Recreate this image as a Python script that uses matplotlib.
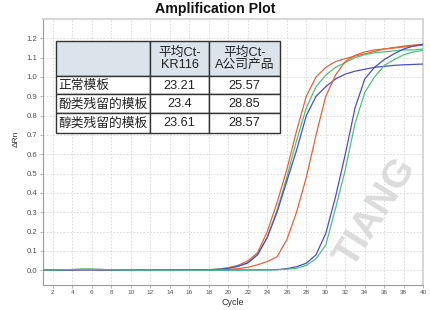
import numpy as np
import matplotlib
matplotlib.use("Agg")
import matplotlib.pyplot as plt
from matplotlib.patches import Rectangle

plt.rcParams['font.family'] = ['Liberation Sans', 'Noto Sans CJK SC', 'DejaVu Sans']

# ---------------- data ----------------
cycles = np.arange(1, 41)

kr116_normal = [0.000, 0.001, 0.002, 0.003, 0.004, 0.004, 0.003, 0.002, 0.001, 0.000,
                0.000, 0.000, 0.001, 0.001, 0.001, 0.002, 0.002, 0.003, 0.006, 0.013,
                0.025, 0.048, 0.090, 0.200, 0.350, 0.520, 0.720, 0.900, 1.000, 1.050,
                1.080, 1.095, 1.108, 1.120, 1.132, 1.145, 1.152, 1.160, 1.165, 1.168]
kr116_phenol = [0.000, 0.001, 0.002, 0.003, 0.005, 0.005, 0.004, 0.002, 0.001, 0.000,
                0.000, 0.000, 0.000, 0.001, 0.001, 0.001, 0.002, 0.002, 0.005, 0.010,
                0.020, 0.038, 0.080, 0.170, 0.310, 0.480, 0.670, 0.840, 0.950, 1.010,
                1.050, 1.075, 1.100, 1.115, 1.125, 1.130, 1.135, 1.140, 1.140, 1.145]
kr116_alcohol = [0.000, 0.000, 0.001, 0.002, 0.003, 0.003, 0.002, 0.001, 0.000, 0.000,
                 0.000, 0.000, 0.000, 0.001, 0.001, 0.001, 0.001, 0.002, 0.004, 0.010,
                 0.020, 0.038, 0.080, 0.170, 0.300, 0.460, 0.620, 0.800, 0.900, 0.950,
                 0.990, 1.015, 1.030, 1.040, 1.050, 1.055, 1.060, 1.063, 1.065, 1.067]
compA_normal = [0.000, 0.001, 0.002, 0.003, 0.003, 0.003, 0.002, 0.001, 0.000, 0.000,
                0.000, 0.000, 0.000, 0.000, 0.001, 0.001, 0.001, 0.001, 0.002, 0.004,
                0.008, 0.015, 0.028, 0.045, 0.070, 0.157, 0.300, 0.480, 0.700, 0.900,
                1.010, 1.080, 1.112, 1.130, 1.140, 1.145, 1.150, 1.155, 1.160, 1.165]
compA_phenol = [0.000, 0.000, 0.001, 0.001, 0.002, 0.002, 0.001, 0.001, 0.000, 0.000,
                0.000, 0.000, 0.000, 0.000, 0.000, 0.000, 0.000, 0.000, 0.000, 0.001,
                0.001, 0.001, 0.002, 0.002, 0.003, 0.008, 0.018, 0.036, 0.080, 0.190,
                0.380, 0.600, 0.840, 0.990, 1.050, 1.090, 1.120, 1.145, 1.160, 1.170]
compA_alcohol = [0.000, 0.001, 0.002, 0.004, 0.005, 0.005, 0.004, 0.002, 0.001, 0.000,
                 0.000, 0.000, 0.000, 0.000, 0.000, 0.000, 0.000, 0.000, 0.000, 0.000,
                 0.001, 0.001, 0.001, 0.002, 0.002, 0.005, 0.010, 0.025, 0.060, 0.130,
                 0.320, 0.520, 0.760, 0.920, 1.000, 1.060, 1.090, 1.115, 1.130, 1.138]

x_ticks = list(range(2, 41, 2))
y_ticks = [0.0, 0.1, 0.2, 0.3, 0.4, 0.5, 0.6, 0.7, 0.8, 0.9, 1.0, 1.1, 1.2]

table_header = ["", "平均Ct-\nKR116", "平均Ct-\nA公司产品"]
table_rows = ["正常模板", "酚类残留的模板", "醇类残留的模板"]
ct_kr116 = ["23.21", "23.4", "23.61"]
ct_compA = ["25.57", "28.85", "28.57"]

# ---------------- figure ----------------
W, H = 430, 310
fig = plt.figure(figsize=(W / 100, H / 100), dpi=100)
fig.patch.set_facecolor('white')

def fx(px):
    return px / W

def fy(py):
    return 1 - py / H

ax = fig.add_axes([fx(43), fy(284.7), fx(423.3) - fx(43), fy(19) - fy(284.7)])

RED = '#e4633d'
GREEN = '#4fbf80'
BLUE = '#4a4fc4'

series = [
    (kr116_normal, RED),
    (kr116_phenol, GREEN),
    (kr116_alcohol, BLUE),
    (compA_normal, RED),
    (compA_phenol, BLUE),
    (compA_alcohol, GREEN),
]
for vals, col in series:
    ax.plot(cycles, vals, color=col, lw=0.9, zorder=3)

ax.set_xlim(1, 40)
ax.set_ylim(-0.075, 1.30)
ax.set_xticks(x_ticks)
ax.set_xticklabels([str(t) for t in x_ticks], fontsize=4.6, color='#505050')
ax.set_yticks(y_ticks)
ax.set_yticklabels([f"{t:.1f}" for t in y_ticks], fontsize=5.6, color='#505050')
ax.tick_params(axis='both', length=2, width=0.5, color='#999999', pad=2)
ax.grid(True, color='#d6d6d6', lw=0.6, ls=(0, (2, 2)), zorder=0)
ax.set_axisbelow(True)
for s in ['left', 'bottom']:
    ax.spines[s].set_color('#9a9a9a')
    ax.spines[s].set_linewidth(0.8)
for s in ['top', 'right']:
    ax.spines[s].set_color('#d0d0d0')
    ax.spines[s].set_linewidth(1.2)

ax.set_xlabel("Cycle", fontsize=6.5, color='#303030', labelpad=2)
ax.set_ylabel("ΔRn", fontsize=6, color='#303030')
ax.yaxis.set_label_coords(-0.062, 0.55)

fig.text(0.5, fy(8.5), "Amplification Plot", ha='center', va='center',
         fontsize=10.2, fontweight='bold', color='#111111')

# watermark (visible part of the logo text)
fig.text(fx(376), fy(212), "TIANG", rotation=58, rotation_mode='anchor',
         ha='center', va='center', fontsize=28, fontweight='heavy',
         color='#d8d8d8', alpha=0.9, zorder=1)

# ---------------- table ----------------
col_edges = [56, 150, 209, 280]
row_edges = [40.7, 75.7, 94.3, 113.3, 132.7]
edge_col = '#333333'

for r in range(len(row_edges) - 1):
    for c in range(len(col_edges) - 1):
        x0, x1 = col_edges[c], col_edges[c + 1]
        y0, y1 = row_edges[r], row_edges[r + 1]
        face = '#dce3eb' if r == 0 else 'white'
        rect = Rectangle((fx(x0), fy(y1)), fx(x1) - fx(x0), fy(y0) - fy(y1),
                         transform=fig.transFigure, facecolor=face,
                         edgecolor=edge_col, lw=1.0, zorder=5)
        fig.add_artist(rect)

def cell_center(c, r):
    return ((col_edges[c] + col_edges[c + 1]) / 2, (row_edges[r] + row_edges[r + 1]) / 2)

tfs = 9.2
for c, txt in enumerate(table_header):
    if txt:
        cx, cy = cell_center(c, 0)
        fig.text(fx(cx), fy(cy + 0.5), txt, ha='center', va='center', fontsize=tfs,
                 color='#222222', linespacing=1.05, zorder=6)
for r, lab in enumerate(table_rows):
    cx, cy = cell_center(0, r + 1)
    fig.text(fx(col_edges[0] + 2.5), fy(cy + 0.5), lab, ha='left', va='center',
             fontsize=tfs, color='#222222', zorder=6)
    cx, cy = cell_center(1, r + 1)
    fig.text(fx(cx), fy(cy + 0.5), ct_kr116[r], ha='center', va='center',
             fontsize=tfs, color='#222222', zorder=6)
    cx, cy = cell_center(2, r + 1)
    fig.text(fx(cx), fy(cy + 0.5), ct_compA[r], ha='center', va='center',
             fontsize=tfs, color='#222222', zorder=6)

fig.savefig("out.png", dpi=100)
